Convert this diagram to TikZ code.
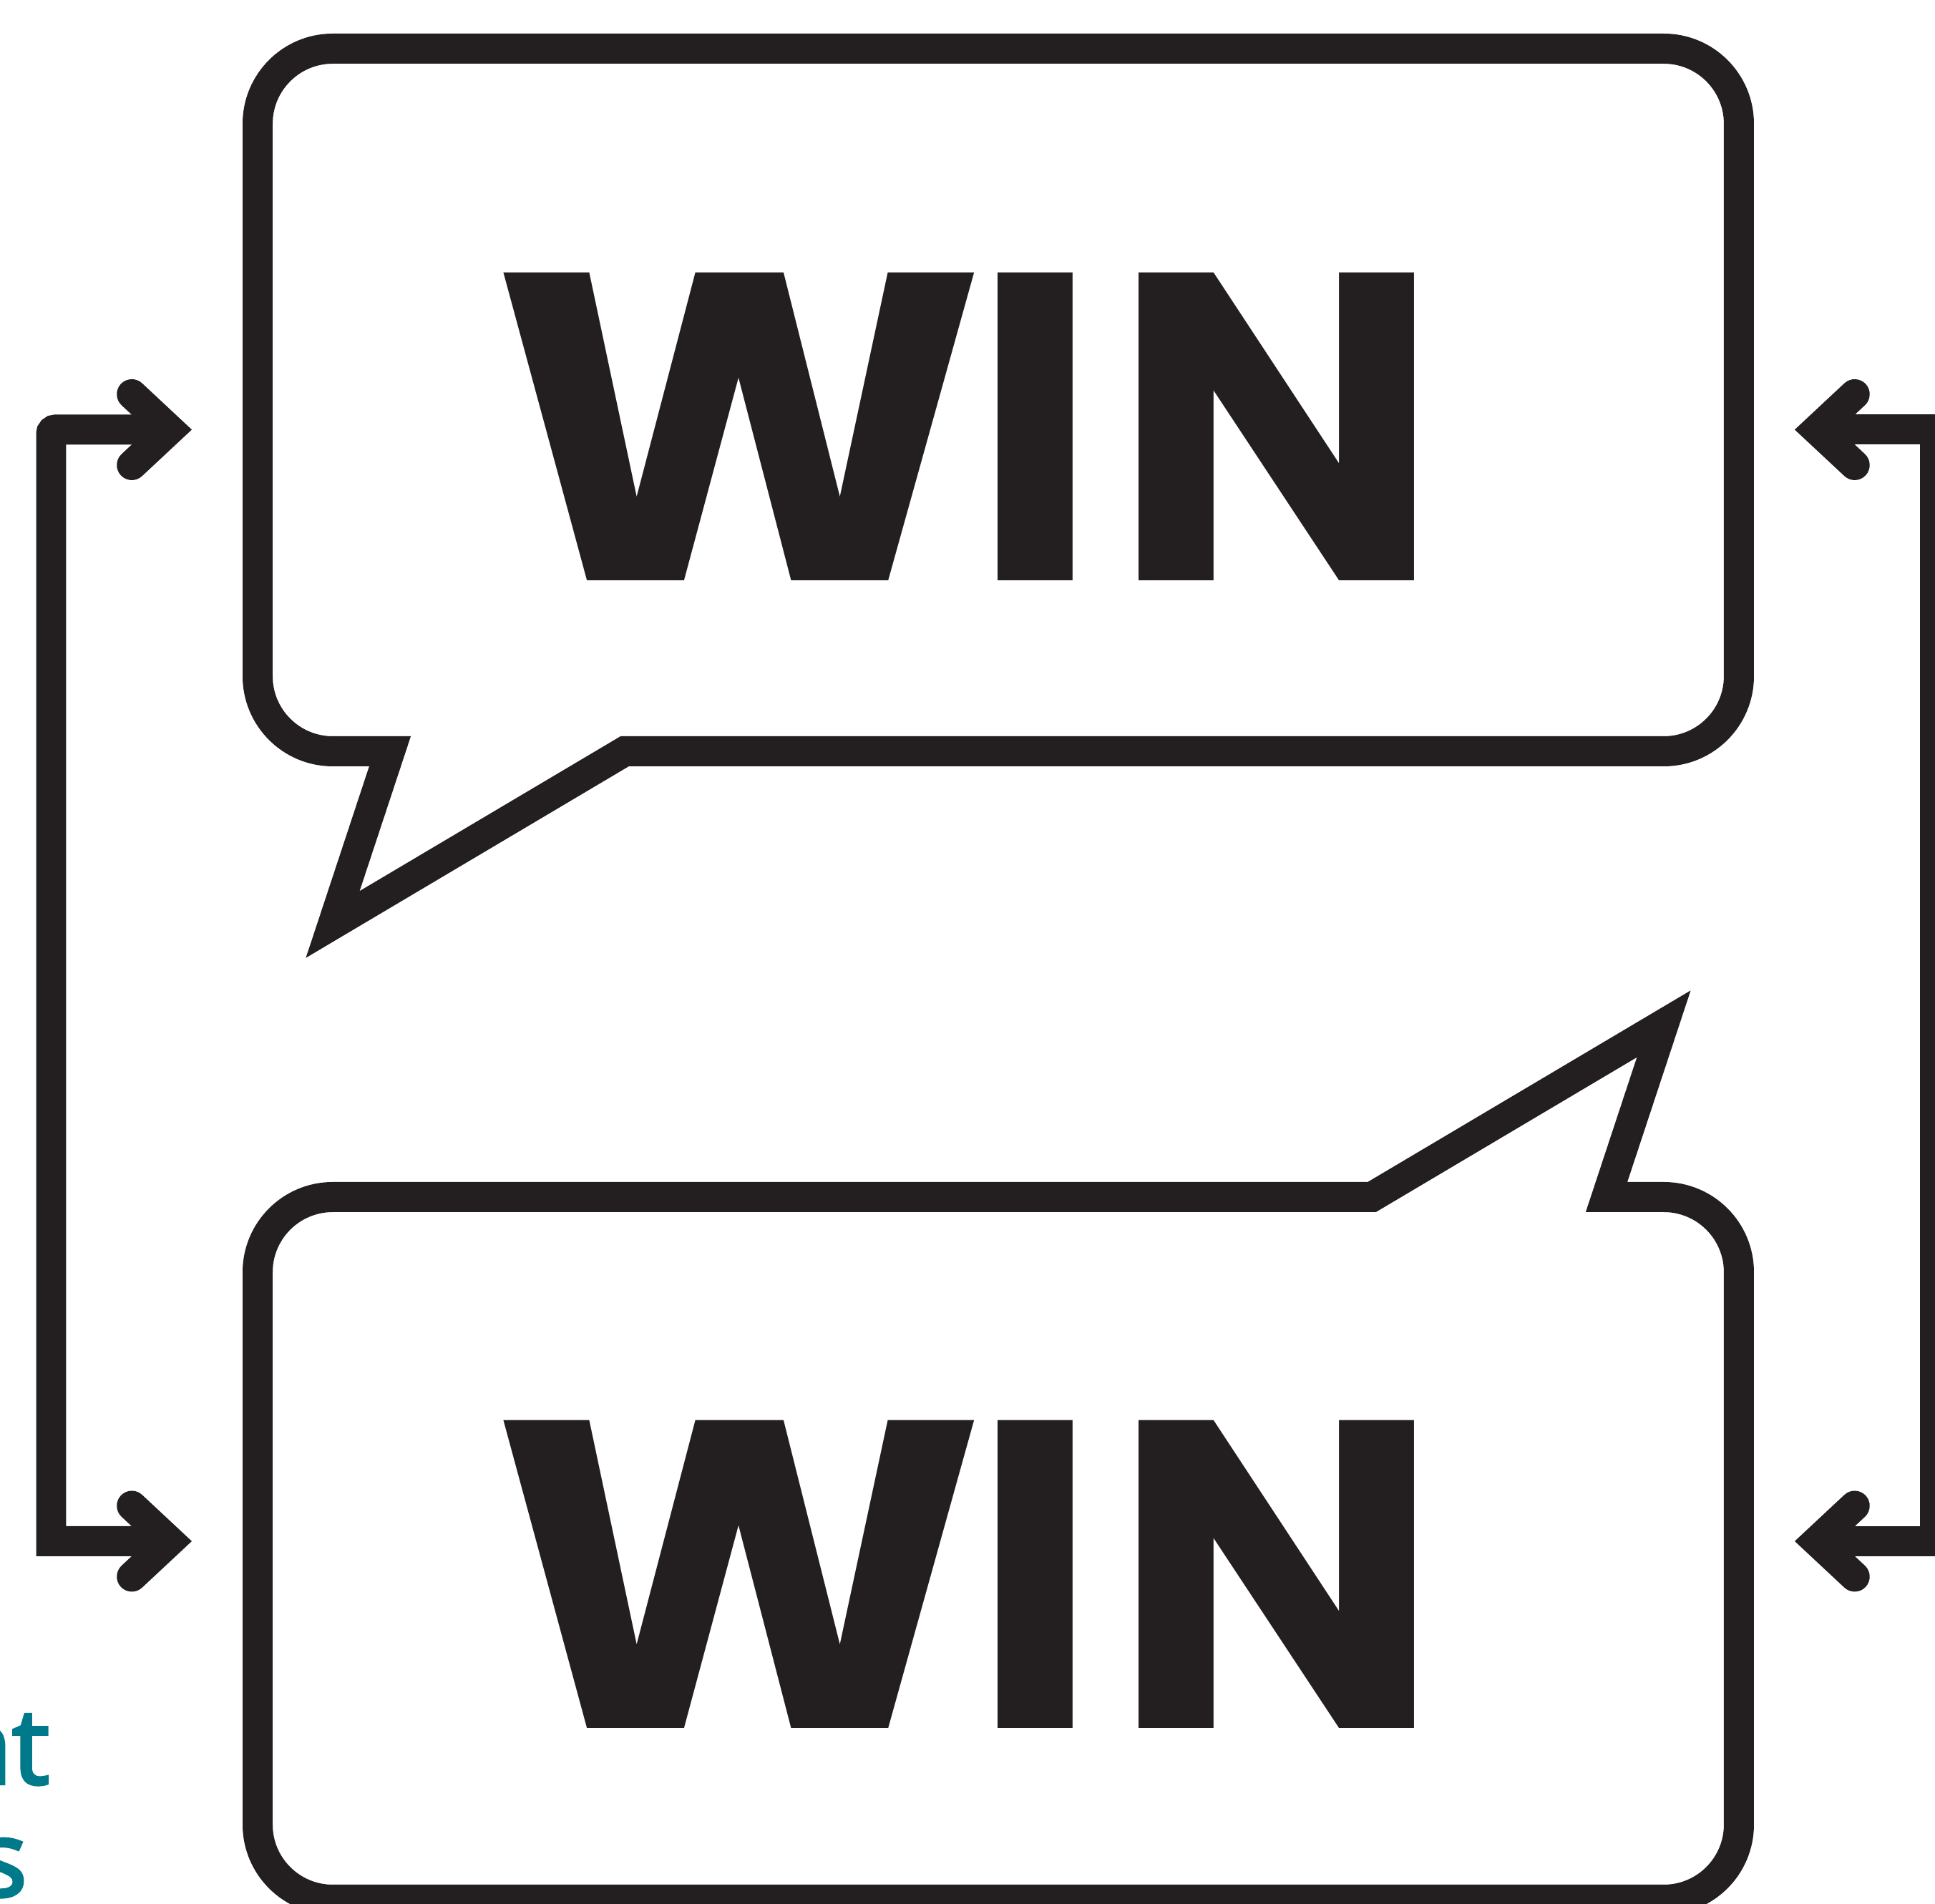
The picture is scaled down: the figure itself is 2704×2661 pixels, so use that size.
\documentclass[tikz,border=0pt]{standalone}
\usepackage{graphicx}
\usepackage{fontspec}
\setmainfont{Poppins}
\newfontfamily\notefont[FakeBold=3]{Open Sans}
\usetikzlibrary{arrows.meta}
\definecolor{inkdark}{RGB}{35,31,32}
\definecolor{noteteal}{RGB}{0,122,138}
\newcommand{\winword}{\scalebox{1.07}[1]{W}\kern-2.1pt I\kern1.7pt N}

\tikzset{
 bubble/.pic={
  \draw[bubbleline] (-850,491) -- (-930,733) -- (-522,491) -- (930,491)
   arc[start angle=90,end angle=0,radius=105] -- (1035,-386)
   arc[start angle=0,end angle=-90,radius=105] -- (-930,-491)
   arc[start angle=-90,end angle=-180,radius=105] -- (-1035,386)
   arc[start angle=180,end angle=90,radius=105] -- cycle;
 }
}

\begin{document}
\begin{tikzpicture}[x=0.1pt,y=-0.1pt,
 bubbleline/.style={draw=inkdark,line width=4.2pt,line join=miter},
 word/.style={font=\fontsize{61.3}{70}\selectfont\bfseries,text=inkdark,inner sep=0pt,anchor=base},
 note/.style={font=\notefont\fontsize{14.7}{17}\selectfont,text=noteteal,inner sep=0pt,anchor=base east},
 >={Straight Barb[length=5.3pt,width=9.9pt,line cap=round,line join=miter]},
 returnline/.style={draw=inkdark,line width=4.2pt,line join=miter,<->}]
\useasboundingbox (0,0) rectangle (2704,2661);
\clip (0,0) rectangle (2704,2661);
% the two speech bubbles
\pic (topbub) at (1395,559) {bubble};
\pic[rotate=180] (botbub) at (1395,2164) {bubble};
\node[word] (topwin) at (1351,812) {\winword};
\node[word] (botwin) at (1351,2416) {\winword};
% ends of the side loops
\coordinate (topL) at (268,600.5);
\coordinate (botL) at (268,2154);
\coordinate (railL) at (71.5,0);
\coordinate (topR) at (2508,600.5);
\coordinate (botR) at (2508,2154);
\coordinate (railR) at (2704,0);
\draw[returnline] (botL) -- (botL -| railL) [rounded corners=0.6pt] -- (topL -| railL) -- (topL);
\draw[returnline] (botR) -- (botR -| railR) |- (topR);
% cut-off caption
\node[note] (noteA) at (71,2493) {nt};
\node[note] (noteB) at (40,2650) {s};
\end{tikzpicture}
\end{document}
